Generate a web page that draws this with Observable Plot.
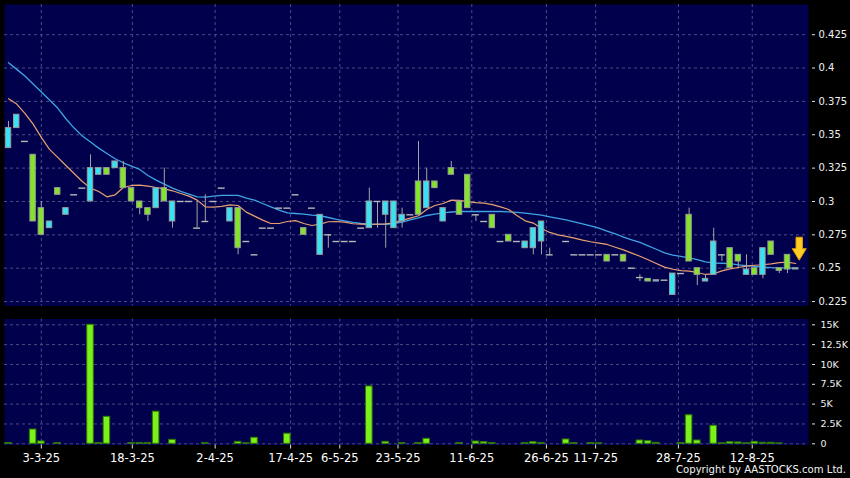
<!DOCTYPE html>
<html><head><meta charset="utf-8">
<script src="https://cdn.jsdelivr.net/npm/d3@7"></script>
<script src="https://cdn.jsdelivr.net/npm/@observablehq/plot@0.6"></script>
<style>
html,body{margin:0;padding:0;background:#000;}
#wrap{position:relative;width:850px;height:478px;background:#000;overflow:hidden;font-family:"DejaVu Sans",sans-serif;}
#price{position:absolute;left:0;top:0;}
#vol{position:absolute;left:0;top:312px;}
#copy{position:absolute;right:4px;top:464px;color:#f2f2f2;font-size:10.1px;line-height:12px;white-space:nowrap;}
</style></head>
<body><div id="wrap"><div id="price"></div><div id="vol"></div><div id="copy">Copyright by AASTOCKS.com Ltd.</div></div>
<script>
// ---- data (one entry per trading session shown) ----
const openP = [0.340,0.355,0.345,0.335,0.295,0.280,0.310,0.290,0.305,0.310,
  0.300,0.320,0.325,0.325,0.325,0.310,0.300,0.295,0.295,0.310,
  0.285,0.300,0.300,0.280,0.285,0.300,0.310,0.285,0.295,0.270,
  0.260,0.280,0.280,0.295,0.295,0.305,0.280,0.295,0.260,0.275,
  0.270,0.270,0.270,0.280,0.280,0.300,0.290,0.280,0.285,0.290,
  0.315,0.295,0.315,0.285,0.325,0.300,0.320,0.290,0.285,0.290,
  0.270,0.275,0.270,0.265,0.265,0.270,0.260,null,0.270,0.260,
  0.260,0.260,0.260,0.260,0.260,0.260,0.250,0.243,0.242,0.240,
  0.241,0.230,0.246,0.290,0.250,0.240,0.245,0.260,0.265,0.260,
  0.245,0.250,0.245,0.270,0.250,0.260,0.249];
const highP = [0.360,0.365,0.345,0.335,0.300,0.285,0.310,0.295,0.305,0.310,
  0.335,0.325,0.325,0.330,0.330,0.310,0.300,0.295,0.310,0.325,
  0.300,0.300,0.300,0.300,0.305,0.300,0.310,0.295,0.295,0.270,
  0.260,0.280,0.280,0.295,0.295,0.305,0.280,0.295,0.290,0.275,
  0.270,0.270,0.270,0.280,0.310,0.300,0.300,0.300,0.295,0.290,
  0.345,0.325,0.315,0.295,0.330,0.300,0.320,0.290,0.285,0.290,
  0.270,0.275,0.270,0.270,0.280,0.285,0.265,null,0.270,0.260,
  0.260,0.260,0.260,0.260,0.260,0.260,0.250,0.245,0.242,0.241,
  0.241,0.246,0.246,0.295,0.250,0.245,0.280,0.260,0.265,0.260,
  0.260,0.250,0.265,0.270,0.250,0.260,0.250];
const lowP = [0.340,0.355,0.345,0.285,0.275,0.280,0.305,0.290,0.305,0.310,
  0.300,0.320,0.320,0.325,0.310,0.300,0.290,0.285,0.295,0.300,
  0.280,0.300,0.300,0.280,0.285,0.300,0.310,0.285,0.260,0.270,
  0.260,0.280,0.280,0.295,0.295,0.305,0.275,0.295,0.260,0.265,
  0.270,0.270,0.270,0.280,0.280,0.280,0.265,0.280,0.280,0.290,
  0.290,0.295,0.310,0.285,0.320,0.290,0.295,0.285,0.285,0.280,
  0.270,0.270,0.270,0.265,0.260,0.260,0.260,null,0.270,0.260,
  0.260,0.260,0.260,0.255,0.260,0.255,0.250,0.240,0.240,0.240,
  0.241,0.230,0.246,0.255,0.237,0.240,0.245,0.255,0.250,0.250,
  0.245,0.245,0.242,0.260,0.246,0.246,0.249];
const closeP = [0.355,0.365,0.345,0.285,0.275,0.285,0.305,0.295,0.305,0.310,
  0.325,0.325,0.320,0.330,0.310,0.300,0.295,0.290,0.310,0.300,
  0.300,0.300,0.300,0.280,0.285,0.300,0.310,0.295,0.265,0.270,
  0.260,0.280,0.280,0.295,0.295,0.305,0.275,0.295,0.290,0.275,
  0.270,0.270,0.270,0.280,0.300,0.300,0.300,0.300,0.290,0.290,
  0.290,0.315,0.310,0.295,0.320,0.290,0.295,0.290,0.285,0.280,
  0.270,0.270,0.270,0.270,0.280,0.285,0.260,null,0.270,0.260,
  0.260,0.260,0.260,0.255,0.260,0.255,0.250,0.243,0.240,0.241,
  0.241,0.246,0.246,0.255,0.245,0.242,0.270,0.260,0.250,0.255,
  0.249,0.245,0.265,0.260,0.248,0.249,0.250];
const volume = [80,0,0,1800,300,0,80,0,0,0,
  15000,80,3400,0,0,80,80,80,4050,0,
  500,0,0,0,80,0,0,0,250,60,
  760,0,0,0,1270,0,0,0,0,0,
  0,0,0,0,7230,0,250,0,80,0,
  80,630,0,0,0,80,0,290,210,80,
  0,0,0,80,210,80,0,0,545,80,
  0,80,60,0,0,0,0,420,335,120,
  0,0,80,3600,420,0,2270,60,210,170,
  60,250,130,130,50,0,0];
const ma10 = [0.377,0.373,0.366,0.358,0.348,0.339,0.333,0.327,0.321,0.315,
  0.310,0.3075,0.3035,0.305,0.3105,0.312,0.3122,0.3115,0.3105,0.3095,
  0.308,0.306,0.304,0.301,0.296,0.2958,0.2963,0.2975,0.297,0.292,
  0.289,0.286,0.2835,0.2835,0.285,0.2857,0.2835,0.282,0.283,0.2848,
  0.285,0.2845,0.2833,0.283,0.2828,0.283,0.2832,0.284,0.2858,0.2875,
  0.2893,0.294,0.297,0.2985,0.301,0.3008,0.2999,0.2992,0.2987,0.2976,
  0.296,0.294,0.2895,0.2855,0.2838,0.2798,0.2768,0.275,0.2738,0.2725,
  0.271,0.2698,0.2688,0.2678,0.2657,0.2637,0.2613,0.259,0.2563,0.2535,
  0.2508,0.2492,0.2482,0.2478,0.2468,0.2453,0.2458,0.248,0.2495,0.2505,
  0.2515,0.2522,0.2526,0.2532,0.2542,0.2545,0.2535];
const ma20 = [0.404,0.399,0.394,0.388,0.382,0.376,0.370,0.362,0.355,0.349,
  0.3445,0.340,0.336,0.332,0.329,0.3265,0.324,0.3195,0.316,0.313,
  0.310,0.3075,0.3055,0.3035,0.3032,0.304,0.3045,0.3045,0.3045,0.3025,
  0.301,0.2985,0.296,0.2935,0.2915,0.291,0.2905,0.2898,0.2893,0.288,
  0.2866,0.2855,0.2843,0.2835,0.283,0.2828,0.2828,0.2835,0.2845,0.2862,
  0.2878,0.2895,0.2905,0.2915,0.2921,0.2925,0.2925,0.2925,0.2925,0.2925,
  0.2925,0.2922,0.2918,0.2912,0.2905,0.2898,0.2885,0.2873,0.2862,0.2848,
  0.2833,0.2817,0.280,0.2778,0.2758,0.2733,0.2712,0.2693,0.2668,0.2642,
  0.2615,0.2598,0.2588,0.2578,0.2565,0.2548,0.2538,0.2537,0.2534,0.2525,
  0.252,0.2513,0.2508,0.2504,0.2502,0.25,0.25];
const dateLabels = ["3-3-25","18-3-25","2-4-25","17-4-25","6-5-25","23-5-25","11-6-25","26-6-25","11-7-25","28-7-25","12-8-25"];
const dateTickIdx = [4, 15.1, 25.2, 34.4, 40.4, 47.5, 56.5, 65.6, 71.6, 81.7, 90.7];
const priceTicks = [0.225,0.25,0.275,0.3,0.325,0.35,0.375,0.4,0.425];
const volTicks = [0,2500,5000,7500,10000,12500,15000];

// ---- build tables ----
const candles = openP.map((o,i)=>({i, o, h: highP[i], l: lowP[i], c: closeP[i]})).filter(d=>d.o!=null);
const maRows = ma10.map((v,i)=>({i, ma10: v, ma20: ma20[i]}));
const volRows = volume.map((v,i)=>({i, v})).filter(d=>d.v>0);
const last = candles[candles.length-1];

const NAVY = "#00004c", GRID = "#4c4c84", CYAN = "#38e2f2", GREEN = "#84e42a";
const xDomain = [-0.49, 97.56];
const common = {width: 850, marginLeft: 4, marginRight: 42,
  style: {background: "transparent", color: "#f0f0f0", fontFamily: "DejaVu Sans", fontSize: "10px", overflow: "visible"}};

const arrowSymbol = {draw(ctx){
  ctx.moveTo(-3.2,-11.5); ctx.lineTo(3.2,-11.5); ctx.lineTo(3.2,0); ctx.lineTo(7,0);
  ctx.lineTo(0,11.5); ctx.lineTo(-7,0); ctx.lineTo(-3.2,0); ctx.closePath();
}};

const price = Plot.plot({
  ...common, height: 312, marginTop: 4, marginBottom: 6.5,
  x: {domain: xDomain, axis: null},
  y: {domain: [0.22167, 0.44762]},
  marks: [
    Plot.frame({fill: NAVY, stroke: null}),
    Plot.gridY(priceTicks, {stroke: GRID, strokeOpacity: 1, strokeDasharray: "3,3"}),
    Plot.gridX(dateTickIdx, {stroke: GRID, strokeOpacity: 1, strokeDasharray: "3,3"}),
    Plot.line(maRows, {x: "i", y: "ma20", stroke: "#3ea4e4", strokeWidth: 1.3}),
    Plot.line(maRows, {x: "i", y: "ma10", stroke: "#e8a070", strokeWidth: 1.2}),
    Plot.ruleX(candles.filter(d=>d.h>d.l), {x: "i", y1: "l", y2: "h", stroke: "#a4a4a4"}),
    Plot.ruleY(candles.filter(d=>d.o===d.c), {y: "c", x1: d=>d.i-0.42, x2: d=>d.i+0.42, stroke: "#b8b8b8", strokeWidth: 1.4}),
    Plot.rect(candles.filter(d=>d.o!==d.c), {x1: d=>d.i-0.33, x2: d=>d.i+0.33, y1: "o", y2: "c",
      fill: d=>d.c>d.o ? CYAN : GREEN, stroke: "#9a9a9a", strokeWidth: 1}),
    Plot.dot([last], {x: "i", y: "c", symbol: arrowSymbol, r: 5, fill: "#ffcc22", stroke: "#e39a00", strokeWidth: 1, dx: 3.5, dy: -19.5}),
    Plot.axisY(priceTicks, {anchor: "right", tickSize: 3, dx: 3, tickPadding: 4, fontSize: 10,
      tickFormat: d => String(+d.toFixed(3)), label: null, stroke: "#e0e0e0", fill: "#f0f0f0"})
  ]
});
document.getElementById("price").append(price);

const vol = Plot.plot({
  ...common, height: 166, marginTop: 6.5, marginBottom: 33.5,
  x: {domain: xDomain},
  y: {domain: [-151, 15731]},
  marks: [
    Plot.frame({fill: NAVY, stroke: null}),
    Plot.gridY(volTicks, {stroke: GRID, strokeOpacity: 1, strokeDasharray: "3,3"}),
    Plot.gridX(dateTickIdx, {stroke: GRID, strokeOpacity: 1, strokeDasharray: "3,3"}),
    Plot.rect(volRows, {x1: d=>d.i-0.4, x2: d=>d.i+0.4, y1: 0, y2: "v", fill: "#7cf01a", stroke: "#2e7a00", strokeWidth: 1}),
    Plot.axisY(volTicks, {anchor: "right", tickSize: 3, dx: 3, tickPadding: 6, fontSize: 9.5,
      tickFormat: d => d === 0 ? "0" : (d/1000) + "K", label: null, stroke: "#e0e0e0", fill: "#f0f0f0"}),
    Plot.axisX(dateTickIdx, {anchor: "bottom", tickSize: 4, tickPadding: 4.5, fontSize: 11.5,
      tickFormat: d => dateLabels[dateTickIdx.indexOf(d)], label: null, stroke: "#e0e0e0", fill: "#ffffff"})
  ]
});
document.getElementById("vol").append(vol);
</script>
</body></html>
